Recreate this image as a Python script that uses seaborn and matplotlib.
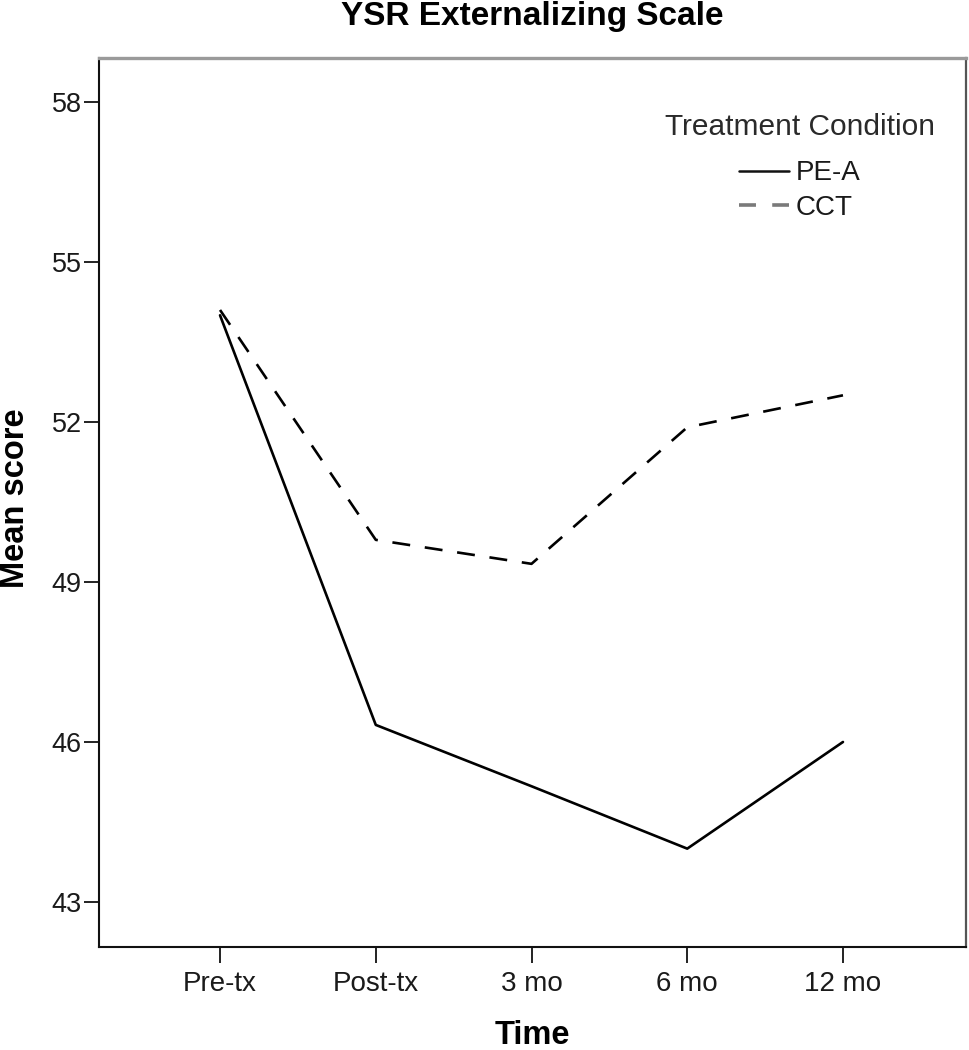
import seaborn as sns
import matplotlib.pyplot as plt
import pandas as pd

# values
time_points = ["Pre-tx", "Post-tx", "3 mo", "6 mo", "12 mo"]
pe_a = [54.0, 46.32, 45.17, 44.0, 46.0]
cct = [54.1, 49.79, 49.34, 51.9, 52.5]
conditions = ["PE-A", "CCT"]
y_ticks = [43, 46, 49, 52, 55, 58]

df = pd.DataFrame({
    "Time": time_points * 2,
    "Mean score": pe_a + cct,
    "Treatment Condition": [conditions[0]] * 5 + [conditions[1]] * 5,
})
df["Time"] = pd.Categorical(df["Time"], categories=time_points, ordered=True)
df["x"] = df["Time"].cat.codes

sns.set_theme(style="white")
plt.rcParams["font.family"] = ["Liberation Sans", "DejaVu Sans"]

fig = plt.figure(figsize=(9.69, 10.5), dpi=100)
ax = fig.add_axes([0.1022, 0.0981, 0.8947, 0.8467])

sns.lineplot(
    data=df, x="x", y="Mean score", hue="Treatment Condition", style="Treatment Condition",
    palette={"PE-A": "black", "CCT": "black"},
    dashes={"PE-A": "", "CCT": (6.8, 5.6)},
    linewidth=1.9, ax=ax,
)

ax.set_xlim(-0.777, 4.79)
ax.set_ylim(42.156, 58.825)
ax.set_xticks(range(len(time_points)))
ax.set_xticklabels(time_points)
ax.set_yticks(y_ticks)

ax.tick_params(axis="x", direction="out", length=11.5, width=1.4, color="#222222",
               labelsize=20, pad=6, bottom=True, labelcolor="#1a1a1a")
ax.tick_params(axis="y", direction="out", length=11, width=1.4, color="#222222",
               labelsize=19.5, pad=1.5, left=True, labelcolor="#1a1a1a")

ax.set_xlabel("Time", fontsize=23.5, fontweight="bold", color="black")
ax.xaxis.label.set_va("baseline")
ax.xaxis.set_label_coords(0.5, -0.109)
ax.set_ylabel("Mean score", fontsize=23.5, fontweight="bold", color="black")
ax.yaxis.label.set_va("center")
ax.yaxis.set_label_coords(-0.0965, 0.505)

fig.text(0.5495, 1 - 25 / 1050, "YSR Externalizing Scale", fontsize=24,
         fontweight="bold", ha="center", va="baseline", color="black")

for side in ["left", "bottom"]:
    ax.spines[side].set_color("#111111")
    ax.spines[side].set_linewidth(1.5)
ax.spines["right"].set_color("#555555")
ax.spines["right"].set_linewidth(1.6)
ax.spines["top"].set_color("#9a9a9a")
ax.spines["top"].set_linewidth(2.4)

handles, labels = ax.get_legend_handles_labels()
handles[0].set_color("#111111")
handles[0].set_linewidth(1.8)
handles[1].set_color("#7a7a7a")
handles[1].set_linewidth(2.6)
handles[1].set_dashes((4.7, 4.5))
leg = ax.legend(handles, labels, loc="upper center",
                bbox_to_anchor=(800 / 969, 1 - 99 / 1050),
                bbox_transform=fig.transFigure, frameon=False,
                handlelength=1.8, handletextpad=0.25, labelspacing=0.3,
                borderpad=0, prop={"family": "Liberation Sans", "size": 20})
leg.set_title("Treatment Condition", prop={"family": "Liberation Sans", "size": 21.5})
leg.get_title().set_color("#2a2a2a")
for t in leg.get_texts():
    t.set_color("#1a1a1a")
leg._legend_box.sep = 14

fig.savefig("out.png", dpi=100)
